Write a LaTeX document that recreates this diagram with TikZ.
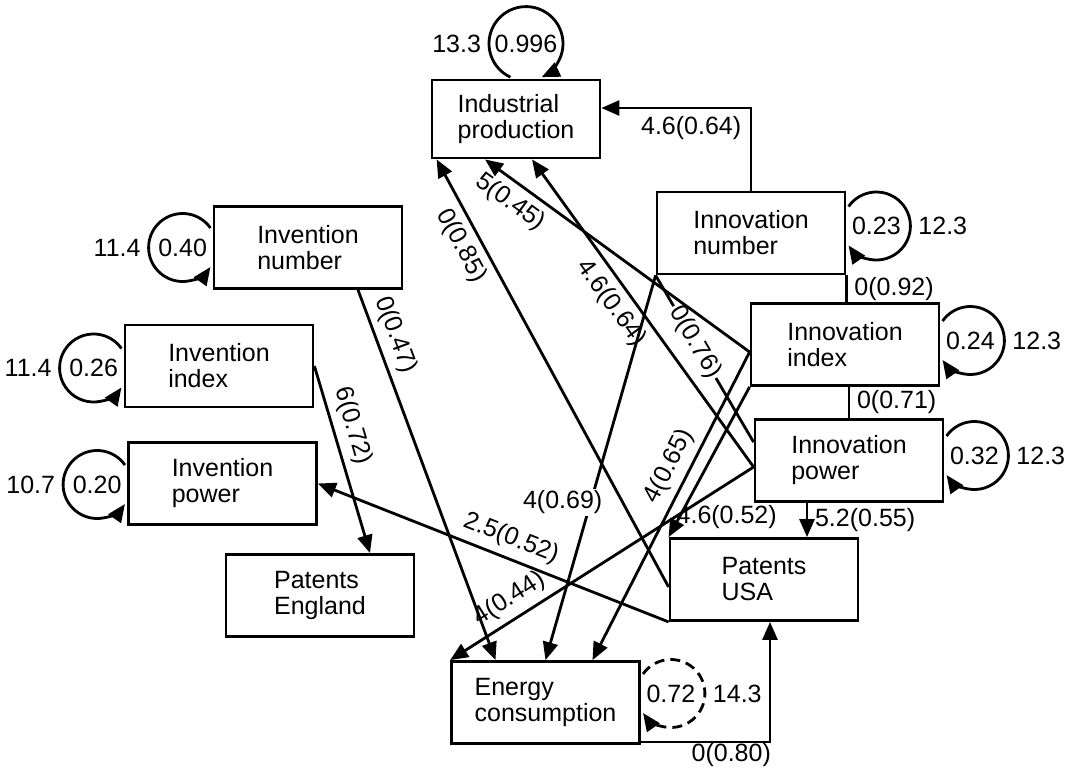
\documentclass[tikz,border=0pt]{standalone}
\usepackage{fontspec}
\setmainfont{Liberation Sans}
\usetikzlibrary{arrows.meta, calc}

\begin{document}
\begin{tikzpicture}[x=0.5pt, y=0.5pt, line width=1.4pt, font=\fontsize{12.5}{13}\selectfont]
    \tikzstyle{block} = [rectangle, draw=black, minimum width=94pt, minimum height=41pt, align=left]
    \tikzstyle{loopval} = [circle, inner sep=0pt, outer sep=0pt, minimum size=34pt]
    \tikzstyle{arrow} = [->, >={Triangle[length=9pt, width=7.5pt]}]

    \useasboundingbox (0,0) rectangle (1067,-767);

    \node (ip) [block, minimum width=84pt, minimum height=39pt] at (516,-119) {Industrial\\production};
    \node (innnum) [block] at (751,-233) {Innovation\\number};
    \node (innidx) [block] at (845,-344.5) {Innovation\\index};
    \node (innpow) [block] at (849,-460.5) {Innovation\\power};
    \node (patusa) [block] at (764,-579.5) {Patents\\USA};
    \node (energy) [block] at (545.5,-702.5) {Energy\\consumption};
    \node (invnum) [block] at (308,-247.5) {Invention\\number};
    \node (invidx) [block] at (219,-366) {Invention\\index};
    \node (invpow) [block] at (222.5,-483.5) {Invention\\power};
    \node (pateng) [block] at (320,-595.5) {Patents\\England};

    % self loops
    \node (iploop) [loopval, minimum size=37pt, label=left:13.3] at ($(ip.north)+(10,35)$) {0.996};
    \draw [arrow] (iploop.245) arc [start angle=245, end angle=-65, radius=18.5pt];
    \node (innnumloop) [loopval, label=right:12.3] at ($(innnum.east)+(30,7)$) {0.23};
    \draw [arrow] (innnumloop.145) arc [start angle=145, end angle=-145, radius=17pt];
    \node (innidxloop) [loopval, label=right:12.3] at ($(innidx.east)+(30,4)$) {0.24};
    \draw [arrow] (innidxloop.145) arc [start angle=145, end angle=-145, radius=17pt];
    \node (innpowloop) [loopval, label=right:12.3] at ($(innpow.east)+(30,5)$) {0.32};
    \draw [arrow] (innpowloop.145) arc [start angle=145, end angle=-145, radius=17pt];
    \node (energyloop) [loopval, label=right:14.3] at ($(energy.east)+(30,9)$) {0.72};
    \draw [arrow, dash pattern=on 5pt off 3pt] (energyloop.145) arc [start angle=145, end angle=-145, radius=17pt];
    \node (invnumloop) [loopval, label=left:11.4] at ($(invnum.west)+(-30,0)$) {0.40};
    \draw [arrow] (invnumloop.35) arc [start angle=35, end angle=325, radius=17pt];
    \node (invidxloop) [loopval, label=left:11.4] at ($(invidx.west)+(-30,-2)$) {0.26};
    \draw [arrow] (invidxloop.35) arc [start angle=35, end angle=325, radius=17pt];
    \node (invpowloop) [loopval, label=left:10.7] at ($(invpow.west)+(-30,-1)$) {0.20};
    \draw [arrow] (invpowloop.35) arc [start angle=35, end angle=325, radius=17pt];

    % links between the innovation series
    \draw (innnum.south west) -- ($(innpow.north west)+(0,-24)$) node [pos=0.4, sloped, fill=white, inner sep=1pt] {0(0.76)};
    \draw (innnum.south east) -- (innnum.south east |- innidx.north) node [midway, right] {0(0.92)};
    \draw (innidx.south -| innpow.north) -- (innpow.north) node [midway, right] {0(0.71)};

    % lags
    \draw [arrow] (innnum.north) |- ($(ip.east)+(0,11)$) node [pos=0.7, below] {4.6(0.64)};
    \draw [arrow] ($(innidx.west)+(0,-7.5)$) -- ($(ip.south)+(-31,0)$) node [pos=0.86, sloped, below] {5(0.45)};
    \draw [arrow] ($(innpow.west)+(0,-6.5)$) -- ($(ip.south)+(16,0)$) node [pos=0.57, sloped, below] {4.6(0.64)};
    \draw [arrow] ($(patusa.west)+(0,-7.5)$) -- ($(ip.south west)+(6,0)$) node [pos=0.82, sloped, below] {0(0.85)};

    \draw [arrow] (innnum.south west) -- (energy.north) node [pos=0.59, anchor=east, xshift=7.5pt, fill=white, inner sep=1pt] {4(0.69)};
    \draw [arrow] ($(innidx.west)+(0,-7.5)$) -- ($(energy.north)+(47,0)$) node [pos=0.4, sloped, above] {4(0.65)};
    \draw [arrow] ($(innpow.west)+(0,-6.5)$) -- (energy.north west) node [pos=0.77, sloped, above] {4(0.44)};
    \draw [arrow] ($(invnum.south)+(50,0)$) -- ($(energy.north)+(-50,0)$) node [pos=0.14, sloped, above] {0(0.47)};

    \coordinate (powout) at ($(innpow.south west)!0.28!(innpow.south east)$);
    \draw [arrow] (powout) -- (powout |- patusa.north) node [midway, right] {5.2(0.55)};
    \draw [arrow] (innidx.south west) -- (patusa.north west) node [at end, anchor=south west] {4.6(0.52)};
    \draw [arrow] ($(energy.south east)+(0,3)$) -| ($(patusa.south)+(6,0)$) node [pos=0.35, below, inner sep=0pt] {0(0.80)};

    \draw [arrow] (patusa.south west) -- (invpow.east) node [pos=0.47, sloped, above] {2.5(0.52)};
    \draw [arrow] (invidx.east) -- ($(pateng.north)+(50,0)$) node [pos=0.35, sloped, above] {6(0.72)};
\end{tikzpicture}
\end{document}
